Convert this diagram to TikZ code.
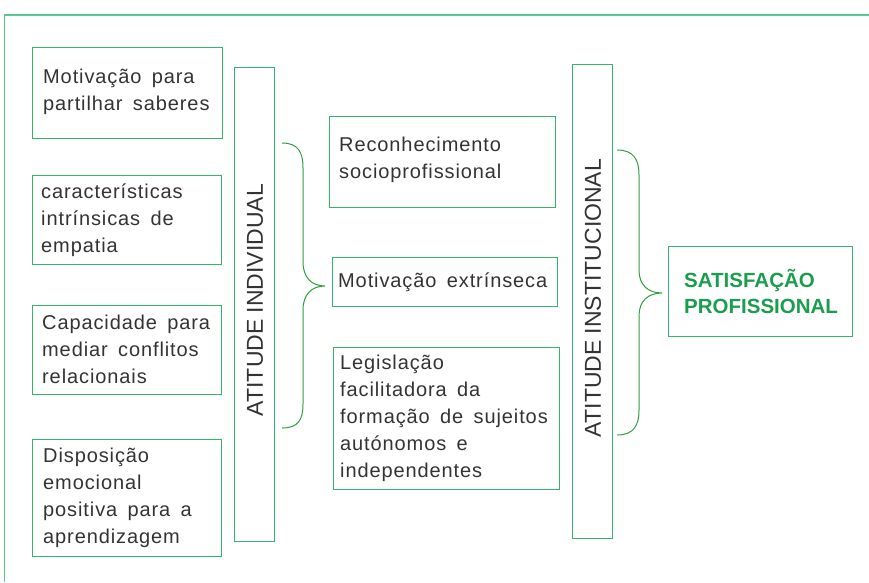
\documentclass[tikz,border=0pt]{standalone}
\usepackage{fontspec}
\setmainfont{Liberation Sans}[LetterSpace=4.5,WordSpace=1.6]
\newfontfamily\plainsans{Liberation Sans}
\definecolor{boxgreen}{HTML}{35B56A}
\definecolor{framegreen}{HTML}{55C98F}
\definecolor{bracegreen}{HTML}{2E9E3E}
\definecolor{textgray}{HTML}{333333}
\definecolor{titlegreen}{HTML}{1A9E4E}
\begin{document}
\begin{tikzpicture}[x=1pt,y=-1pt,
  box/.style={draw=boxgreen, line width=1.3pt, anchor=north west, inner sep=0pt},
  txt/.style={anchor=base west, align=left, inner sep=0pt, text=textgray, font=\fontsize{20}{27}\selectfont},
  vlabel/.style={rotate=90, text=textgray, font=\plainsans\fontsize{23}{27}\selectfont, inner sep=0pt},
  brace/.style={draw=bracegreen, line width=1pt}]
\useasboundingbox (0,0) rectangle (869,582);
% frame
\draw[framegreen, line width=2pt] (4,14.5) -- (869,14.5);
\draw[framegreen, line width=1pt] (4.5,14) -- (4.5,582);
% left boxes (text nodes anchored at the baseline of their last line)
\node[box, minimum width=190pt, minimum height=91pt] (b1) at (32,47) {};
\node[txt] (t1) at (43,110) {Motivação para\\partilhar saberes};
\node[box, minimum width=189pt, minimum height=89pt] (b2) at (32,175) {};
\node[txt] (t2) at (41,252) {características\\intrínsicas de\\empatia};
\node[box, minimum width=189pt, minimum height=89pt] (b3) at (32,305) {};
\node[txt] (t3) at (42,383) {Capacidade para\\mediar conflitos\\relacionais};
\node[box, minimum width=189pt, minimum height=117pt] (b4) at (32,439) {};
\node[txt] (t4) at (43,543) {Disposição\\emocional\\positiva para a\\aprendizagem};
% individual column
\node[box, minimum width=40pt, minimum height=474pt] (ind) at (234,67) {};
\node[vlabel] (indl) at (255,300) {ATITUDE INDIVIDUAL};
% brace 1
\coordinate (br1a) at (282,143);
\coordinate (br1tip) at (325,286);
\coordinate (br1b) at (282,428);
\draw[brace] (br1a) .. controls (298,143) and (303,152) .. (303,168) -- (303,262)
  .. controls (303,278) and (312,286) .. (br1tip)
  .. controls (312,286) and (303,294) .. (303,310) -- (303,404)
  .. controls (303,420) and (298,428) .. (br1b);
% middle boxes
\node[box, minimum width=226pt, minimum height=91pt] (m1) at (329,116) {};
\node[txt] (tm1) at (339,178) {Reconhecimento\\socioprofissional};
\node[box, minimum width=225pt, minimum height=49pt] (m2) at (332,257) {};
\node[txt] (tm2) at (338,287) {Motivação extrínseca};
\node[box, minimum width=226pt, minimum height=142pt] (m3) at (333,347) {};
\node[txt] (tm3) at (340,477) {Legislação\\facilitadora da\\formação de sujeitos\\autónomos e\\independentes};
% institutional column
\node[box, minimum width=40pt, minimum height=474pt] (inst) at (572,64) {};
\node[vlabel] (instl) at (593,298) {ATITUDE INSTITUCIONAL};
% brace 2
\coordinate (br2a) at (617,150);
\coordinate (br2tip) at (662,293);
\coordinate (br2b) at (617,435);
\draw[brace] (br2a) .. controls (634,150) and (639,160) .. (639,175) -- (639,270)
  .. controls (639,285) and (648,293) .. (br2tip)
  .. controls (648,293) and (639,301) .. (639,316) -- (639,410)
  .. controls (639,425) and (634,435) .. (br2b);
% result
\node[box, minimum width=184pt, minimum height=90pt] (res) at (668,246) {};
\node[anchor=base west, align=left, inner sep=0pt, text=titlegreen, font=\plainsans\bfseries\fontsize{20.5}{26}\selectfont] (resl) at (684,313) {SATISFAÇÃO\\PROFISSIONAL};
\end{tikzpicture}
\end{document}
